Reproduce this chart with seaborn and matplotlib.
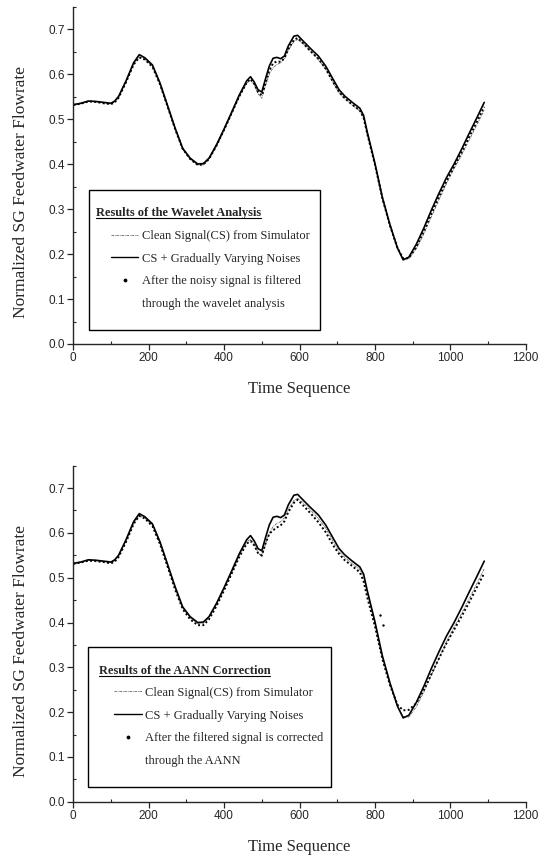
import matplotlib
matplotlib.use("Agg")
import matplotlib.pyplot as plt
from matplotlib.lines import Line2D
from matplotlib.patches import Rectangle
from matplotlib.ticker import MultipleLocator
import seaborn as sns

# time axis shared by every series
t = [0, 20, 40, 60, 80, 100, 110, 120, 140, 160, 175, 190,
     210, 230, 250, 270, 290, 310, 330, 345, 360, 380, 400, 420,
     440, 460, 470, 480, 490, 500, 510, 520, 530, 540, 550, 560,
     570, 585, 595, 610, 630, 650, 670, 690, 705, 720, 740, 760,
     770, 780, 800, 820, 840, 860, 875, 890, 910, 930, 950, 970,
     990, 1010, 1030, 1050, 1070, 1090]

# CS + gradually varying noises (solid)
noisy = [0.532, 0.535, 0.540, 0.539, 0.537, 0.535, 0.540, 0.550, 0.585, 0.625, 0.643, 0.636,
         0.620, 0.580, 0.530, 0.480, 0.435, 0.413, 0.400, 0.401, 0.413, 0.443, 0.478, 0.515,
         0.553, 0.585, 0.594, 0.582, 0.565, 0.560, 0.590, 0.618, 0.635, 0.637, 0.634, 0.640,
         0.662, 0.684, 0.686, 0.673, 0.656, 0.640, 0.617, 0.587, 0.565, 0.551, 0.537, 0.524,
         0.508, 0.470, 0.402, 0.325, 0.265, 0.213, 0.187, 0.193, 0.222, 0.258, 0.298, 0.335,
         0.370, 0.400, 0.433, 0.468, 0.502, 0.537]

# clean signal from simulator (dash-dot)
clean = [0.530, 0.534, 0.539, 0.538, 0.536, 0.533, 0.538, 0.548, 0.583, 0.622, 0.638, 0.633,
         0.617, 0.577, 0.527, 0.477, 0.433, 0.411, 0.398, 0.398, 0.411, 0.440, 0.475, 0.512,
         0.549, 0.580, 0.586, 0.576, 0.556, 0.546, 0.575, 0.600, 0.614, 0.621, 0.625, 0.634,
         0.652, 0.672, 0.677, 0.667, 0.650, 0.632, 0.610, 0.579, 0.558, 0.545, 0.531, 0.518,
         0.502, 0.465, 0.398, 0.322, 0.262, 0.212, 0.190, 0.189, 0.212, 0.245, 0.283, 0.320,
         0.357, 0.390, 0.420, 0.453, 0.486, 0.520]

# noisy signal after wavelet filtering (dots, top panel)
wavelet = [0.531, 0.534, 0.539, 0.538, 0.535, 0.533, 0.537, 0.547, 0.582, 0.621, 0.637, 0.632,
           0.616, 0.577, 0.528, 0.478, 0.434, 0.411, 0.398, 0.399, 0.411, 0.441, 0.476, 0.513,
           0.550, 0.581, 0.589, 0.578, 0.560, 0.552, 0.580, 0.608, 0.624, 0.628, 0.627, 0.635,
           0.655, 0.676, 0.680, 0.668, 0.650, 0.634, 0.611, 0.581, 0.560, 0.546, 0.532, 0.519,
           0.503, 0.466, 0.399, 0.323, 0.263, 0.213, 0.190, 0.191, 0.216, 0.251, 0.290, 0.327,
           0.362, 0.394, 0.426, 0.460, 0.493, 0.527]

# filtered signal after AANN correction (dots, bottom panel)
aann = [0.531, 0.534, 0.538, 0.537, 0.535, 0.532, 0.536, 0.546, 0.580, 0.620, 0.638, 0.632,
        0.615, 0.575, 0.525, 0.474, 0.430, 0.407, 0.394, 0.394, 0.407, 0.437, 0.472, 0.509,
        0.546, 0.576, 0.582, 0.572, 0.555, 0.550, 0.577, 0.598, 0.606, 0.612, 0.617, 0.626,
        0.646, 0.667, 0.674, 0.661, 0.643, 0.624, 0.601, 0.571, 0.553, 0.539, 0.526, 0.512,
        0.492, 0.455, 0.392, 0.318, 0.260, 0.216, 0.204, 0.205, 0.220, 0.250, 0.285, 0.320,
        0.354, 0.384, 0.414, 0.445, 0.478, 0.510]
aann_stray_t = [814, 822]
aann_stray = [0.417, 0.395]

x_ticks = [0, 200, 400, 600, 800, 1000, 1200]
y_ticks = [0.0, 0.1, 0.2, 0.3, 0.4, 0.5, 0.6, 0.7]

sns.set_style("ticks")
plt.rcParams["font.family"] = ["Liberation Serif", "DejaVu Serif"]
plt.rcParams["axes.linewidth"] = 1.0

SANS = "Liberation Sans"
FS = 9

fig = plt.figure(figsize=(5.49, 8.57), dpi=100)
ax_top = fig.add_axes([0.1335, 0.5986, 0.8241, 0.3938])
ax_bot = fig.add_axes([0.1335, 0.0645, 0.8241, 0.3921])


def draw_panel(ax, dots, title, labels, frame, title_xy, leg_anchor):
    sns.lineplot(x=t, y=clean, ax=ax, color="0.4", lw=0.6,
                 linestyle=(0, (3, 1, 1, 1)), legend=False)
    sns.lineplot(x=t, y=noisy, ax=ax, color="black", lw=1.2, legend=False)
    sns.lineplot(x=t, y=dots, ax=ax, color="black", lw=1.4,
                 linestyle=(0, (1, 1.2)), legend=False)

    ax.set_xlim(0, 1200)
    ax.set_ylim(0, 0.75)
    ax.set_xticks(x_ticks, labels=[str(v) for v in x_ticks],
                  fontfamily=SANS, fontsize=8.5)
    ax.set_yticks(y_ticks, labels=[f"{v:.1f}" for v in y_ticks],
                  fontfamily=SANS, fontsize=8.5)
    ax.xaxis.set_minor_locator(MultipleLocator(100))
    ax.yaxis.set_minor_locator(MultipleLocator(0.05))
    ax.tick_params(which="major", direction="out", length=4, width=0.9, pad=2)
    ax.tick_params(which="minor", direction="in", length=2.5, width=0.8)
    sns.despine(ax=ax)

    ax.set_xlabel("Time Sequence", fontsize=12, labelpad=12)
    ax.set_ylabel("Normalized SG Feedwater Flowrate", fontsize=12.5)
    ax.yaxis.set_label_coords(-0.097, 0.45)

    ax.add_patch(Rectangle(frame[:2], frame[2], frame[3], transform=ax.transAxes,
                           fill=False, edgecolor="black", lw=1.0))
    ttl = ax.text(title_xy[0], title_xy[1], title, transform=ax.transAxes,
                  fontsize=FS, fontweight="bold", va="center", ha="left")

    handles = [
        Line2D([], [], color="0.4", lw=0.6, linestyle=(0, (3, 1, 1, 1))),
        Line2D([], [], color="black", lw=1.0),
        Line2D([], [], ls="none", marker=".", ms=3.5, color="black"),
        Line2D([], [], ls="none"),
    ]
    ax.legend(handles, labels, loc="upper left", bbox_to_anchor=leg_anchor,
              frameon=False, fontsize=FS, borderpad=0, borderaxespad=0,
              handlelength=2.2, handletextpad=0.3, labelspacing=0.86)
    return ttl


ttl_top = draw_panel(
    ax_top, wavelet, "Results of the Wavelet Analysis",
    ["Clean Signal(CS) from Simulator", "CS + Gradually Varying Noises",
     "After the noisy signal is filtered", "through the wavelet analysis"],
    (0.035, 0.041, 0.51, 0.415), (0.050, 0.388), (0.083, 0.338))

ttl_bot = draw_panel(
    ax_bot, aann, "Results of the AANN Correction",
    ["Clean Signal(CS) from Simulator", "CS + Gradually Varying Noises",
     "After the filtered signal is corrected", "through the AANN"],
    (0.033, 0.045, 0.536, 0.416), (0.056, 0.390), (0.090, 0.342))
sns.scatterplot(x=aann_stray_t, y=aann_stray, ax=ax_bot, color="black", s=3,
                linewidth=0, legend=False)

# underline the legend titles
fig.canvas.draw()
renderer = fig.canvas.get_renderer()
inv = fig.transFigure.inverted()
for ttl in (ttl_top, ttl_bot):
    bb = ttl.get_window_extent(renderer)
    (x0, y0), (x1, _) = inv.transform([(bb.x0, bb.y0 + 1), (bb.x1, bb.y0 + 1)])
    fig.add_artist(Line2D([x0, x1], [y0, y0], color="black", lw=0.8,
                          transform=fig.transFigure))

fig.savefig("out.png", dpi=100)
plt.close(fig)
